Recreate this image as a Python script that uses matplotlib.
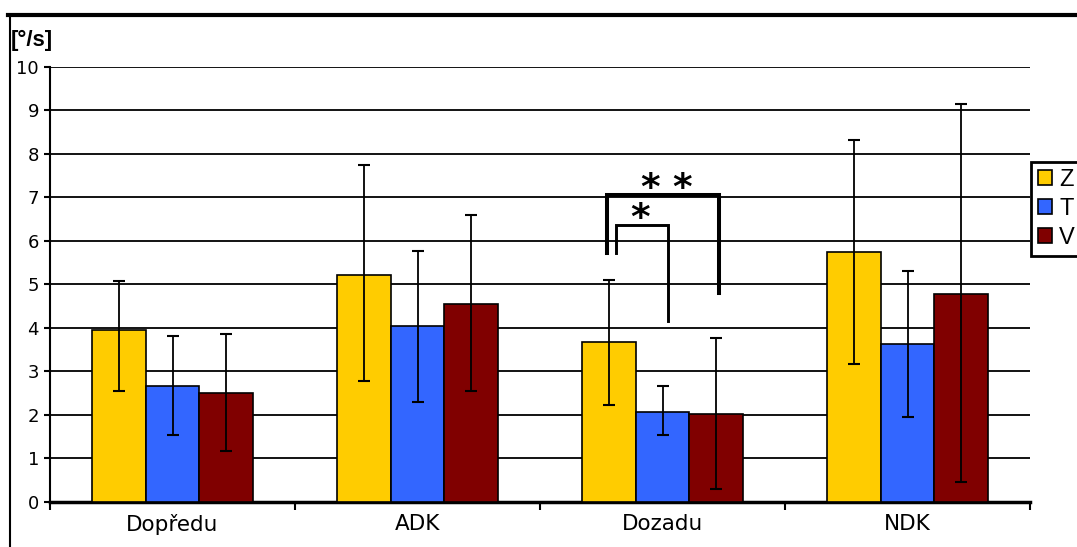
import numpy as np
import matplotlib
matplotlib.use("Agg")
import matplotlib.pyplot as plt
from matplotlib.lines import Line2D
from matplotlib.patches import Patch

plt.rcParams['font.family'] = ['DejaVu Sans']

categories = ["Dopředu", "ADK", "Dozadu", "NDK"]
series = ["Z", "T", "V"]
colors = ["#FFCC00", "#3366FF", "#800000"]

# mean angular velocity [°/s]
means_z = [3.94, 5.21, 3.68, 5.75]
means_t = [2.67, 4.03, 2.07, 3.62]
means_v = [2.49, 4.54, 2.02, 4.78]

# error bar ends (lower, upper)
low_z = [2.55, 2.78, 2.22, 3.17]
high_z = [5.08, 7.74, 5.09, 8.32]
low_t = [1.54, 2.29, 1.54, 1.96]
high_t = [3.82, 5.77, 2.67, 5.31]
low_v = [1.17, 2.55, 0.30, 0.45]
high_v = [3.86, 6.59, 3.77, 9.14]

means = [means_z, means_t, means_v]
lows = [low_z, low_t, low_v]
highs = [high_z, high_t, high_v]

fig = plt.figure(figsize=(10.77, 5.47), dpi=100)
ax = fig.add_axes([50/1077, 1 - 501.8/547, 980/1077, 435/547])

x = np.arange(len(categories))
w = 0.22
for k in range(3):
    m = np.array(means[k])
    yerr = [m - np.array(lows[k]), np.array(highs[k]) - m]
    ax.bar(x + (k - 1) * w, m, w, color=colors[k], edgecolor="black",
           linewidth=1.2, zorder=3)
    ax.errorbar(x + (k - 1) * w, m, yerr=yerr, fmt="none",
                ecolor="black", elinewidth=1.3, capsize=4.5, capthick=1.5, zorder=4)

ax.set_xlim(-0.5, 3.5)
ax.set_ylim(0, 10)
ax.set_yticks(range(11))
ax.yaxis.grid(True, color="black", linewidth=1.3, zorder=0)
ax.set_axisbelow(True)

ax.set_xticks(x)
ax.set_xticklabels(categories, fontsize=15.5)
ax.tick_params(axis="x", length=0, pad=9)
ax.set_xticks(np.arange(-0.5, 4.0, 1.0), minor=True)
ax.tick_params(axis="x", which="minor", length=6, width=1.5, direction="out")
ax.tick_params(axis="y", labelsize=13, length=4, width=1.5, pad=4)

for s in ["top", "right"]:
    ax.spines[s].set_visible(False)
ax.spines["left"].set_linewidth(1.5)
ax.spines["bottom"].set_linewidth(2.5)

# significance brackets
ax.plot([1.773, 1.773, 2.23, 2.23], [5.72, 7.06, 7.06, 4.8], color="black",
        linewidth=2.9, solid_joinstyle="miter", zorder=5)
ax.plot([1.81, 1.81, 2.022, 2.022], [5.72, 6.37, 6.37, 4.16], color="black",
        linewidth=2.1, solid_joinstyle="miter", zorder=5)
for sx, sy in [(1.949, 7.33), (2.080, 7.33), (1.908, 6.64)]:
    ax.text(sx, sy - 0.37, "*", ha="center", va="baseline", fontsize=27,
            fontweight="bold", zorder=6)

# unit label
fig.text(11/1077, 1 - 40/547, "[°/s]", fontsize=16, fontweight="bold",
         family="Liberation Sans", va="center", ha="left")

# legend
handles = [Patch(facecolor=c, edgecolor="black", linewidth=1.2) for c in colors]
leg = fig.legend(handles, series, loc="upper left",
                 bbox_to_anchor=(1031/1077, 1 - 162/547),
                 prop={"family": "Liberation Sans", "size": 17},
                 handlelength=0.6, handleheight=0.6, handletextpad=0.3,
                 borderpad=0.3, labelspacing=0.3, fancybox=False,
                 framealpha=1, borderaxespad=0)
leg.get_frame().set_edgecolor("black")
leg.get_frame().set_linewidth(2)

# chart border
fig.add_artist(Line2D([8/1077, 1], [1 - 15/547, 1 - 15/547], color="black",
                      linewidth=3, transform=fig.transFigure))
fig.add_artist(Line2D([10/1077, 10/1077], [0, 1 - 15/547], color="black",
                      linewidth=1.5, transform=fig.transFigure))

fig.savefig("out.png", dpi=100)
